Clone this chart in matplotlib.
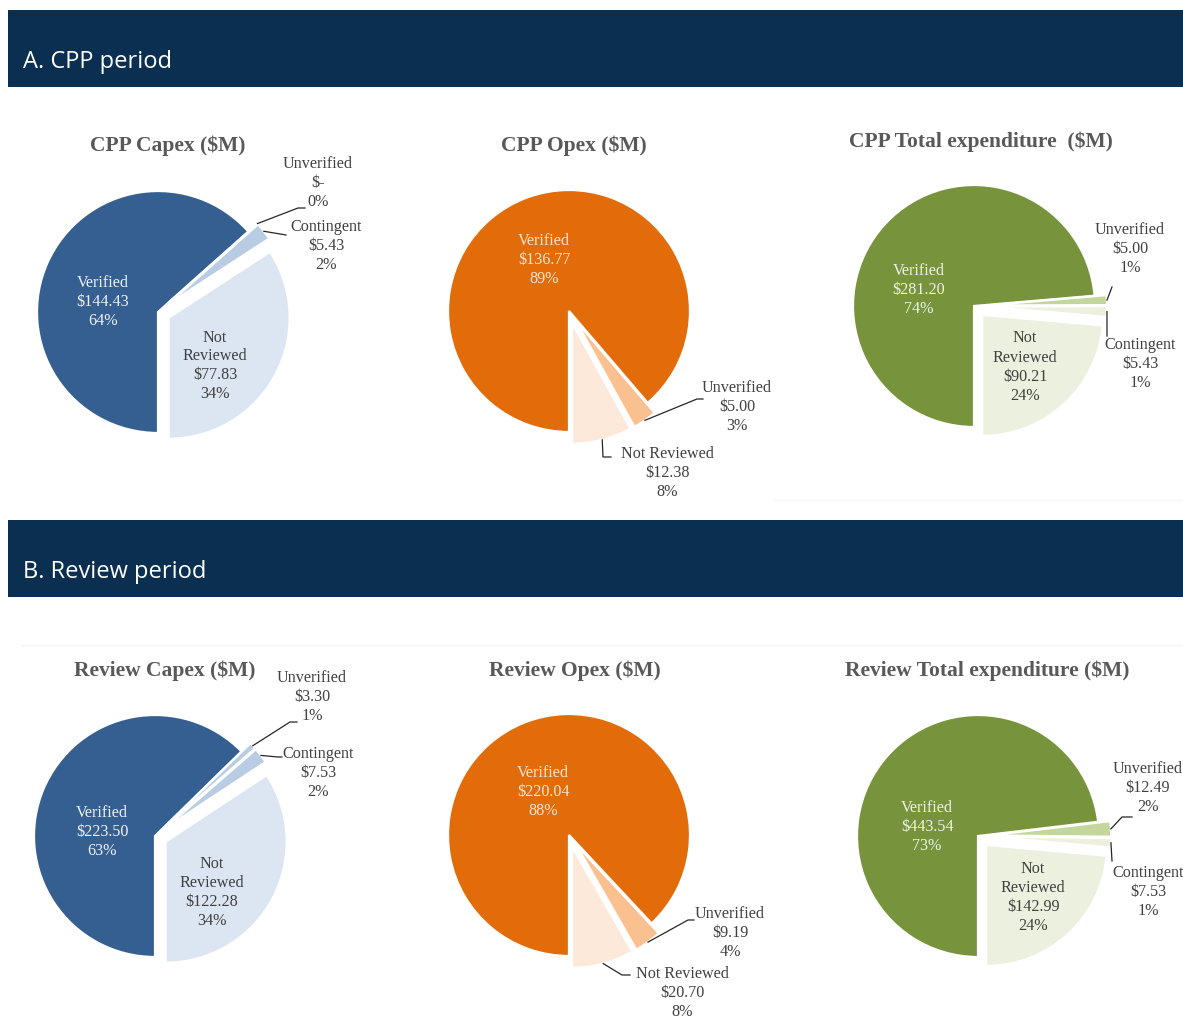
import matplotlib
matplotlib.use("Agg")
import matplotlib.pyplot as plt
from matplotlib.lines import Line2D
from matplotlib.patches import Rectangle
import numpy as np

W, H = 1183, 1020
DPI = 100

# ---------------- data ----------------
section_titles = ["A. CPP period", "B. Review period"]

capex_categories = ["Verified", "Unverified", "Contingent", "Not Reviewed"]
opex_categories = ["Verified", "Unverified", "Not Reviewed"]
total_categories = ["Verified", "Unverified", "Contingent", "Not Reviewed"]

cpp_capex_values = [144.43, 0.00, 5.43, 77.83]
cpp_capex_pct = ["64%", "0%", "2%", "34%"]
cpp_opex_values = [136.77, 5.00, 12.38]
cpp_opex_pct = ["89%", "3%", "8%"]
cpp_total_values = [281.20, 5.00, 5.43, 90.21]
cpp_total_pct = ["74%", "1%", "1%", "24%"]

rev_capex_values = [223.50, 3.30, 7.53, 122.28]
rev_capex_pct = ["63%", "1%", "2%", "34%"]
rev_opex_values = [220.04, 9.19, 20.70]
rev_opex_pct = ["88%", "4%", "8%"]
rev_total_values = [443.54, 12.49, 7.53, 142.99]
rev_total_pct = ["73%", "2%", "1%", "24%"]

chart_titles = ["CPP Capex ($M)", "CPP Opex ($M)", "CPP Total expenditure  ($M)",
                "Review Capex ($M)", "Review Opex ($M)", "Review Total expenditure ($M)"]

# ---------------- styles ----------------
NAVY = "#0B2F50"
BLUE = ["#365F91", "#B8CCE4", "#B8CCE4", "#DCE6F2"]
ORANGE = ["#E36C0A", "#FAC090", "#FDE9D9"]
GREEN = ["#77933C", "#C3D69B", "#EBF1DE", "#EBF1DE"]
DARK = "#404040"
LIGHT_BLUE_TXT = "#EEF1F6"
LIGHT_OR_TXT = "#FBE6D6"
LIGHT_GR_TXT = "#EEF2E6"
TITLE_C = "#595959"
SERIF = ["Liberation Serif", "DejaVu Serif"]
R = 121.0

fig = plt.figure(figsize=(W / DPI, H / DPI), dpi=DPI)
fig.patch.set_facecolor("white")


def fx(x):
    return x / W


def fy(y):
    return 1 - y / H


# header bars
for (top, bottom), title in zip([(11, 88), (521, 598)], section_titles):
    fig.add_artist(Rectangle((fx(8), fy(bottom)), fx(1183) - fx(8), (bottom - top) / H,
                             transform=fig.transFigure, facecolor=NAVY, edgecolor="none"))
    fig.text(fx(23), fy((top + bottom) / 2 + 12), title, color="white",
             fontsize=17, family=["Open Sans", "DejaVu Sans"], va="center", ha="left")

# faint separators
fig.add_artist(Line2D([fx(775), fx(1183)], [fy(501), fy(501)], transform=fig.transFigure,
                      color="#F6F6F6", lw=1))
fig.add_artist(Line2D([fx(22), fx(1183)], [fy(646), fy(646)], transform=fig.transFigure,
                      color="#F3F3F3", lw=1))


def money(v):
    return "$-" if v == 0 else f"${v:,.2f}"


def draw_pie(center, title, title_pos, cats, values, pcts, colors, txt_colors,
             label_pos, names, leaders):
    cx, cy = center
    half = 1.3 * R
    ax = fig.add_axes([fx(cx - half), fy(cy + half), 2 * half / W, 2 * half / H])
    explode = [0.0] + [0.1] * (len(values) - 1)
    wedges, _ = ax.pie(values, colors=colors, explode=explode, startangle=-90,
                       counterclock=False, radius=1.0,
                       wedgeprops=dict(edgecolor="white", linewidth=1.6))
    ax.set_xlim(-1.3, 1.3)
    ax.set_ylim(-1.3, 1.3)
    ax.set_aspect("equal")
    ax.axis("off")

    fig.text(fx(title_pos[0]), fy(title_pos[1]), title, ha="center", va="center",
             fontsize=15.5, fontweight="bold", color=TITLE_C, family=SERIF)

    for i, (cat, v, p) in enumerate(zip(cats, values, pcts)):
        lx, ly = label_pos[i]
        txt = f"{names[i]}\n{money(v)}\n{p}"
        fig.text(fx(lx), fy(ly), txt, ha="center", va="center", multialignment="center",
                 fontsize=11.6, color=txt_colors[i], family=SERIF, linespacing=1.25)

    fig.canvas.draw()
    for i, pts in leaders.items():
        w = wedges[i]
        th = np.deg2rad((w.theta1 + w.theta2) / 2)
        wx, wy = w.center
        dx, dy = ax.transData.transform((wx + 1.0 * np.cos(th), wy + 1.0 * np.sin(th)))
        xs = [dx / W] + [fx(p[0]) for p in pts]
        ys = [dy / H] + [fy(p[1]) for p in pts]
        fig.add_artist(Line2D(xs, ys, transform=fig.transFigure, color="#262626", lw=0.9))


# ---- CPP Capex ----
draw_pie((158, 313), chart_titles[0], (168, 146), capex_categories, cpp_capex_values,
         cpp_capex_pct, BLUE, [LIGHT_BLUE_TXT, DARK, DARK, DARK],
         [(103, 302), (318, 183), (326, 246), (215, 366)],
         ["Verified", "Unverified", "Contingent", "Not\nReviewed"],
         {1: [(298, 209), (305, 209)], 2: [(286, 236)]})

# ---- CPP Opex ----
draw_pie((569, 312), chart_titles[1], (574, 146), opex_categories, cpp_opex_values,
         cpp_opex_pct, ORANGE, [LIGHT_OR_TXT, DARK, DARK],
         [(544, 260), (737, 407), (667, 473)],
         ["Verified", "Unverified", "Not Reviewed"],
         {1: [(697, 400), (703, 400)], 2: [(603, 458), (611, 458)]})

# ---- CPP Total ----
draw_pie((974, 307), chart_titles[2], (981, 142), total_categories, cpp_total_values,
         cpp_total_pct, GREEN, [LIGHT_GR_TXT, DARK, DARK, DARK],
         [(919, 290), (1130, 249), (1140, 364), (1025, 367)],
         ["Verified", "Unverified", "Contingent", "Not\nReviewed"],
         {1: [(1112, 288)], 2: [(1107, 337)]})

# ---- Review Capex ----
draw_pie((155, 837), chart_titles[3], (165, 671), capex_categories, rev_capex_values,
         rev_capex_pct, BLUE, [LIGHT_BLUE_TXT, DARK, DARK, DARK],
         [(102, 832), (312, 697), (318, 773), (212, 893)],
         ["Verified", "Unverified", "Contingent", "Not\nReviewed"],
         {1: [(290, 723), (297, 723)], 2: [(278, 758), (282, 758)]})

# ---- Review Opex ----
draw_pie((569, 836), chart_titles[4], (575, 671), opex_categories, rev_opex_values,
         rev_opex_pct, ORANGE, [LIGHT_OR_TXT, DARK, DARK],
         [(543, 792), (730, 933), (682, 993)],
         ["Verified", "Unverified", "Not Reviewed"],
         {1: [(688, 921), (694, 921)], 2: [(622, 976), (630, 976)]})

# ---- Review Total ----
draw_pie((978, 837), chart_titles[5], (987, 671), total_categories, rev_total_values,
         rev_total_pct, GREEN, [LIGHT_GR_TXT, DARK, DARK, DARK],
         [(927, 827), (1148, 788), (1148, 892), (1033, 898)],
         ["Verified", "Unverified", "Contingent", "Not\nReviewed"],
         {1: [(1122, 818), (1132, 818)], 2: [(1112, 862)]})

fig.savefig("out.png", dpi=DPI, facecolor="white")
